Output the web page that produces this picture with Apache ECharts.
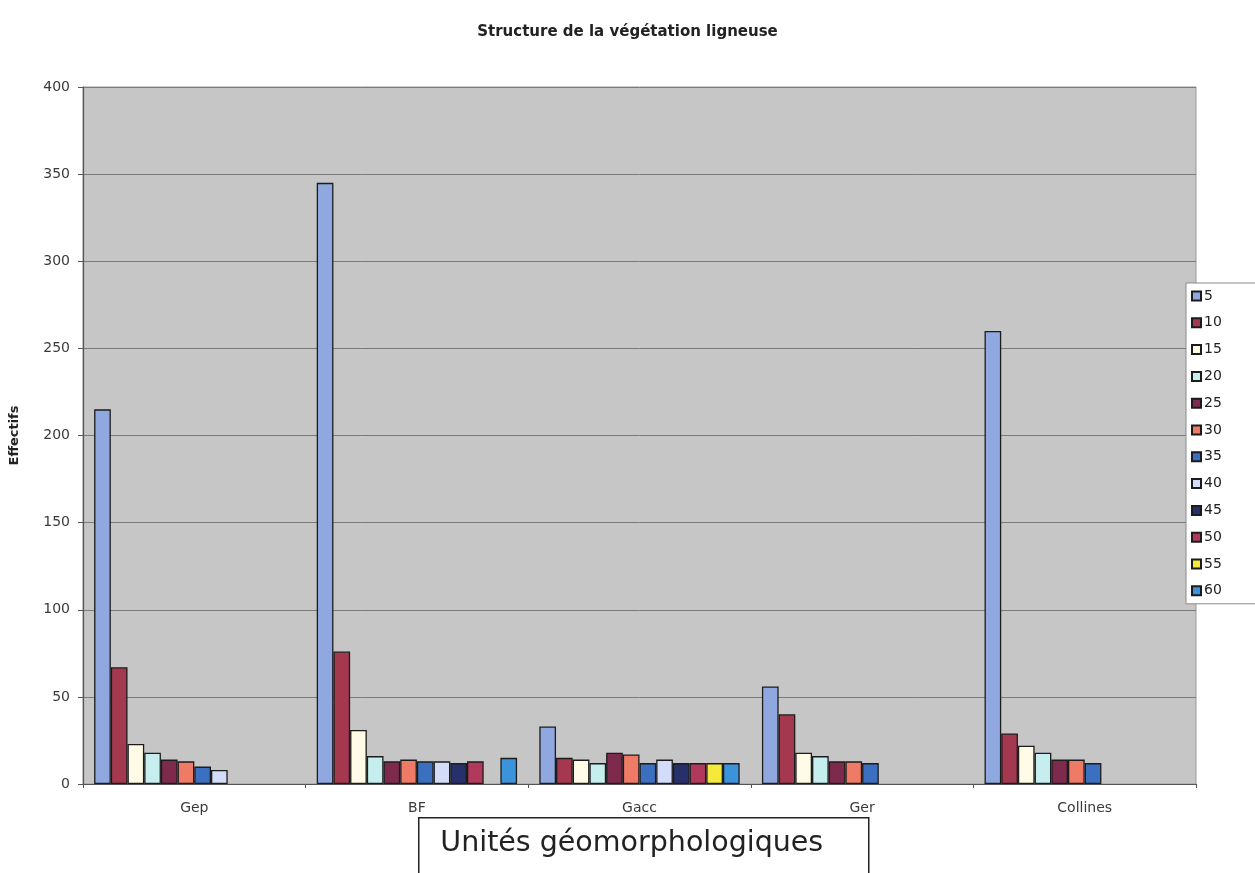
<!DOCTYPE html>
<html>
<head>
<meta charset="utf-8">
<title>Structure de la végétation ligneuse</title>
<script src="https://cdn.jsdelivr.net/npm/echarts@6/dist/echarts.min.js"></script>
<style>
  html, body { margin: 0; padding: 0; background: #ffffff; }
  #chart { width: 1255px; height: 873px; }
</style>
</head>
<body>
<div id="chart"></div>
<script>
// Geomorphological units (x categories)
const categories = ['Gep', 'BF', 'Gacc', 'Ger', 'Collines'];

// Size classes (legend entries)
const classNames = ['5', '10', '15', '20', '25', '30', '35', '40', '45', '50', '55', '60'];

// Counts per size class, one value per unit (null = no stems in that class)
const s5  = [215, 345, 33, 56, 260];
const s10 = [67, 76, 15, 40, 29];
const s15 = [23, 31, 14, 18, 22];
const s20 = [18, 16, 12, 16, 18];
const s25 = [14, 13, 18, 13, 14];
const s30 = [13, 14, 17, 13, 14];
const s35 = [10, 13, 12, 12, 12];
const s40 = [8, 13, 14, null, null];
const s45 = [null, 12, 12, null, null];
const s50 = [null, 13, 12, null, null];
const s55 = [null, null, 12, null, null];
const s60 = [null, 15, 12, null, null];

const seriesValues = [s5, s10, s15, s20, s25, s30, s35, s40, s45, s50, s55, s60];

// Y axis scale
const yMin = 0, yMax = 400, yStep = 50;

const palette = [
  '#8fa8e0', '#a3384f', '#fffbe6', '#c6eeee', '#7d2a4d', '#ef7a65',
  '#3b6fc0', '#d3dcf8', '#26306a', '#b13a5c', '#f5ea3c', '#3b93dc'
];

const FONT = 'DejaVu Sans';

const chart = echarts.init(document.getElementById('chart'), null, { renderer: 'canvas' });

const series = seriesValues.map((vals, i) => ({
  name: classNames[i],
  type: 'bar',
  data: vals,
  barGap: '0%',
  barCategoryGap: '10%',
  itemStyle: {
    color: palette[i],
    borderColor: '#1c1c1c',
    borderWidth: 1.3
  },
  emphasis: { disabled: true }
}));

chart.setOption({
  animation: false,
  backgroundColor: '#ffffff',
  textStyle: { fontFamily: FONT },
  title: {
    text: 'Structure de la végétation ligneuse',
    left: 'center',
    top: 20,
    textStyle: { fontFamily: FONT, fontSize: 15, fontWeight: 'bold', color: '#222' }
  },
  grid: {
    left: 82, right: 59, top: 87, bottom: 89,
    show: true,
    backgroundColor: '#c6c6c6',
    borderColor: '#9a9a9a',
    borderWidth: 1
  },
  legend: {
    orient: 'vertical',
    left: 1186,
    top: 283,
    padding: [5, 45, 5, 5],
    backgroundColor: '#ffffff',
    borderColor: '#8a8a8a',
    borderWidth: 1,
    itemWidth: 9,
    itemHeight: 9,
    itemGap: 10.8,
    icon: 'rect',
    textStyle: { fontFamily: FONT, fontSize: 14, color: '#222', lineHeight: 16, padding: [0, 0, 0, -2] },
    data: classNames
  },
  xAxis: {
    type: 'category',
    data: categories,
    axisLine: { lineStyle: { color: '#555', width: 1.2 } },
    axisTick: { show: true, length: 4, lineStyle: { color: '#555' } },
    axisLabel: { fontFamily: FONT, fontSize: 14, color: '#3a3a3a', margin: 17 },
    splitLine: { show: false }
  },
  yAxis: {
    type: 'value',
    min: yMin,
    max: yMax,
    interval: yStep,
    name: 'Effectifs',
    nameLocation: 'middle',
    nameGap: 62,
    nameTextStyle: { fontFamily: FONT, fontSize: 13, fontWeight: 'bold', color: '#222' },
    axisLine: { show: true, lineStyle: { color: '#555', width: 1.2 } },
    axisTick: { show: true, length: 5, lineStyle: { color: '#555' } },
    axisLabel: { fontFamily: FONT, fontSize: 14, color: '#3a3a3a', margin: 13 },
    splitLine: { show: true, lineStyle: { color: '#7a7a7a', width: 1 } }
  },
  graphic: [
    {
      type: 'group',
      left: 418,
      top: 817,
      children: [
        {
          type: 'rect',
          shape: { x: 0, y: 0, width: 450, height: 80 },
          style: { fill: '#ffffff', stroke: '#222', lineWidth: 1.5 }
        },
        {
          type: 'text',
          x: 213,
          y: 26,
          style: {
            text: 'Unités géomorphologiques',
            fontFamily: FONT,
            fontSize: 28.5,
            fill: '#222',
            align: 'center',
            verticalAlign: 'middle'
          }
        }
      ]
    }
  ],
  series: series
});
</script>
</body>
</html>
